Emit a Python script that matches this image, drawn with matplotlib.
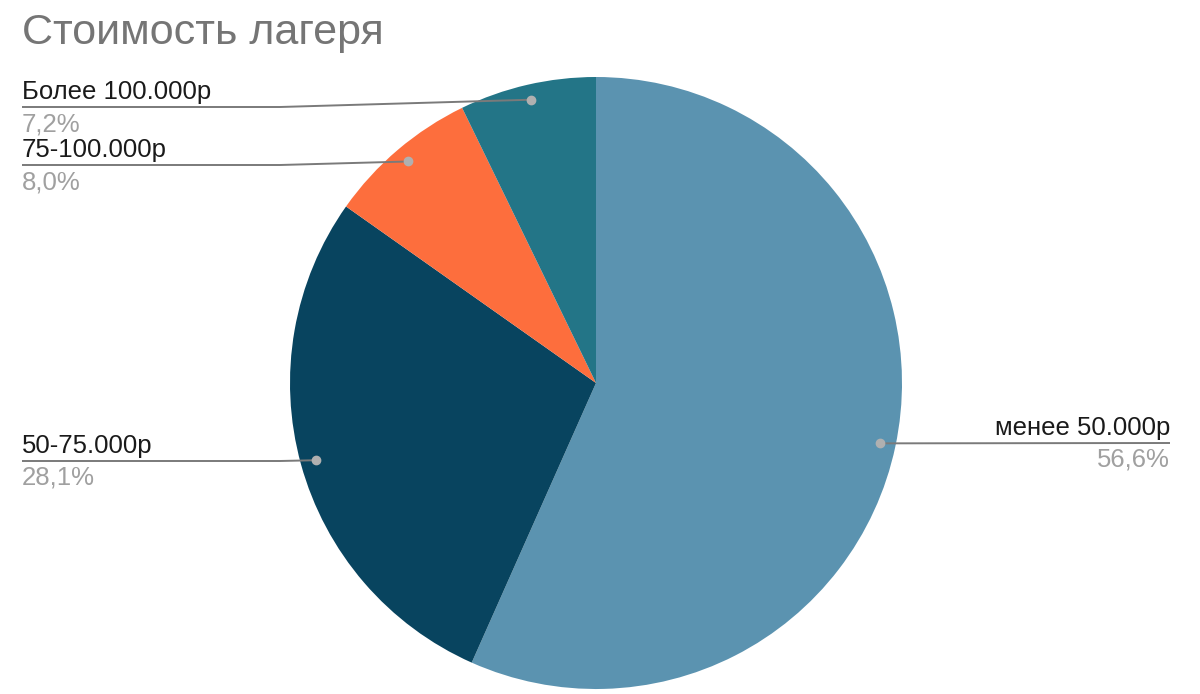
import numpy as np
import matplotlib.pyplot as plt

plt.rcParams['font.family'] = ['Liberation Sans', 'DejaVu Sans']

title = "Стоимость лагеря"
labels = ["менее 50.000р", "50-75.000р", "75-100.000р", "Более 100.000р"]
shares = [56.6, 28.1, 8.0, 7.2]
pct_text = ["56,6%", "28,1%", "8,0%", "7,2%"]
colors = ["#5b93b0", "#08445f", "#fd6e3d", "#237587"]

W, H = 1200, 694
fig = plt.figure(figsize=(W / 100, H / 100), dpi=100)
ax = fig.add_axes([0, 0, 1, 1])

# pie in pixel-like coords (y up)
cx, cy, R = 596, H - 383, 306
wedges, _ = ax.pie(shares, colors=colors, startangle=90, counterclock=False,
                   center=(cx, cy), radius=R, wedgeprops=dict(linewidth=0))
ax.set_xlim(0, W)
ax.set_ylim(0, H)
ax.set_aspect('auto')
ax.axis('off')

# label layout: (x end of leader line, y of line in px from top, side)
layout = [(1170, 443, 'right'), (22, 461, 'left'), (22, 165, 'left'), (22, 107, 'left')]
line_col = "#7a7a7a"
for w, lab, pct, (xe, ye, side) in zip(wedges, labels, pct_text, layout):
    ang = np.deg2rad((w.theta1 + w.theta2) / 2)
    dx = cx + 0.95 * R * np.cos(ang)
    dy = cy + 0.95 * R * np.sin(ang)
    yl = H - ye
    if side == 'left':
        xs = [dx, min(dx, 280), xe]
        ha = 'left'
    else:
        xs = [dx, xe]
        ha = 'right'
    ys = [dy] + [yl] * (len(xs) - 1)
    ax.plot(xs, ys, color=line_col, lw=1.4, solid_capstyle='butt', zorder=3)
    ax.plot(dx, dy, 'o', ms=6, color="#b0b0b0", zorder=4)
    ax.text(xe, yl + 3, lab, ha=ha, va='bottom', fontsize=18.5, color="#1a1a1a")
    ax.text(xe, yl - 5, pct, ha=ha, va='top', fontsize=18.5, color="#a0a0a0")

fig.text(22 / W, 1 - 33 / H, title, ha='left', va='center', fontsize=31, color="#757575")

fig.savefig("out.png", dpi=100)
